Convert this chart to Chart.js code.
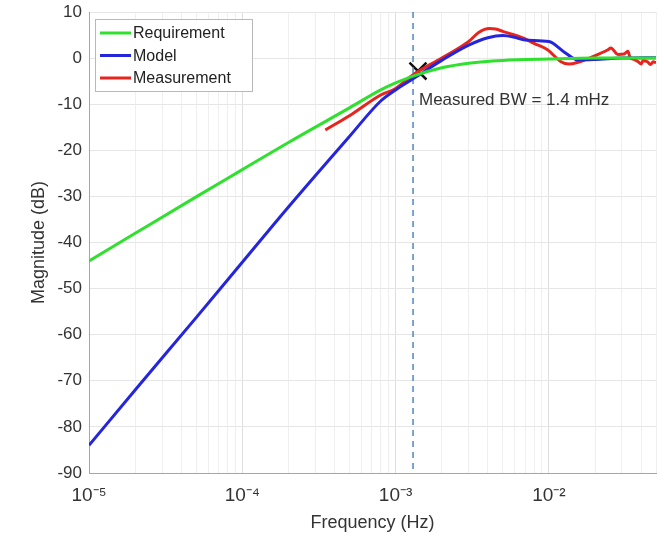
<!DOCTYPE html>
<html>
<head>
<meta charset="utf-8">
<script src="https://cdn.jsdelivr.net/npm/chart.js@4.4.1/dist/chart.umd.min.js"></script>
<style>
  html, body { margin: 0; padding: 0; background: #fff; }
  #wrap { width: 664px; height: 539px; }
</style>
</head>
<body>
<div id="wrap"><canvas id="bodePlot" width="664" height="539"></canvas></div>
<script>
// Requirement curve (Hz, dB)
const reqFreq = [1e-5, 2e-5, 5e-5, 1e-4, 2e-4, 5e-4, 8e-4, 1e-3, 1.3e-3, 2e-3, 3e-3, 5e-3, 1e-2, 2e-2, 5e-2];
const reqDb   = [-44, -38, -30.1, -24.2, -18.3, -10.8, -6.9, -5.4, -3.9, -2.1, -1.1, -0.5, -0.2, 0, 0];

// Model response
const modelFreq = [1e-5, 2e-5, 5e-5, 1e-4, 2e-4, 5e-4, 8e-4, 1e-3, 1.3e-3, 2e-3, 3e-3, 4e-3, 5e-3, 6e-3, 7e-3, 1e-2, 1.25e-2, 1.55e-2, 2e-2, 3e-2, 5e-2];
const modelDb   = [-84, -72, -56.3, -44.3, -32.3, -17, -9.3, -6.9, -4.5, -0.5, 2.8, 4.4, 4.9, 4.5, 3.9, 3.6, 1.4, -0.4, -0.3, 0, 0.1];

// Measured response
const measFreq = [3.48e-4, 5e-4, 8e-4, 1e-3, 1.3e-3, 1.4e-3, 2e-3, 3e-3, 3.5e-3, 4.1e-3, 4.5e-3, 5e-3, 6.9e-3, 8e-3, 9.8e-3, 1.2e-2, 1.35e-2, 1.55e-2, 1.9e-2, 2.43e-2, 2.54e-2, 2.82e-2, 3.1e-2, 3.28e-2, 3.38e-2, 3.6e-2, 3.83e-2, 4.0e-2, 4.1e-2, 4.4e-2, 4.6e-2, 4.8e-2, 5e-2];
const measDb   = [-15.6, -12.5, -8.0, -6.6, -3.6, -2.9, 0.0, 3.6, 5.6, 6.4, 6.3, 5.8, 4.3, 3.2, 1.8, -0.8, -1.3, -0.9, 0.2, 1.8, 2.2, 0.8, 0.9, 1.5, 0.2, -0.3, -0.8, -1.3, -0.6, -0.8, -1.4, -0.8, -1.0];

// Bandwidth marker
const bwFreq = 1.4e-3;
const bwDb = -2.8;
const cursorFreq = 1.3e-3;

// Axes
const freqMin = 1e-5, freqMax = 5e-2;
const dbMin = -90, dbMax = 10;
const decadeValues = [1e-5, 1e-4, 1e-3, 1e-2];
const decadeLabels = ['10\u207B\u2075', '10\u207B\u2074', '10\u207B\u00B3', '10\u207B\u00B2'];

const seriesNames = ['Requirement', 'Model', 'Measurement'];
const seriesColors = ['#2fe02f', '#2525dc', '#e8241e'];

const toPoints = (xs, ys) => xs.map((x, i) => ({ x: x, y: ys[i] }));

const FONT = '"Liberation Sans", Arial, Helvetica, sans-serif';

// legend box and bandwidth label, drawn on top of the plot
const overlay = {
  id: 'overlay',
  afterDraw(chart) {
    const ctx = chart.ctx;
    const xs = chart.scales.x, ys = chart.scales.y;
    ctx.save();

    // bandwidth text next to the marker
    ctx.font = '17px ' + FONT;
    ctx.fillStyle = '#333';
    ctx.textBaseline = 'middle';
    ctx.textAlign = 'left';
    ctx.fillText('Measured BW = ' + (bwFreq * 1000).toFixed(1) + ' mHz',
      xs.getPixelForValue(bwFreq) + 1, ys.getPixelForValue(bwDb - 6.3));

    // legend
    ctx.fillStyle = '#fff';
    ctx.fillRect(95, 19, 157, 72);
    ctx.strokeStyle = '#b8b8b8';
    ctx.lineWidth = 1;
    ctx.strokeRect(95.5, 19.5, 157, 72);
    ctx.font = '16px ' + FONT;
    seriesNames.forEach((name, i) => {
      const y = 33 + i * 22.5;
      ctx.strokeStyle = seriesColors[i];
      ctx.lineWidth = 3;
      ctx.beginPath();
      ctx.moveTo(100, y);
      ctx.lineTo(131, y);
      ctx.stroke();
      ctx.fillStyle = '#222';
      ctx.fillText(name, 133, y + 1);
    });
    ctx.restore();
  }
};

const lineStyle = (i) => ({
  borderColor: seriesColors[i],
  backgroundColor: seriesColors[i],
  borderWidth: 3,
  pointRadius: 0,
  cubicInterpolationMode: 'monotone',
  fill: false
});

new Chart(document.getElementById('bodePlot'), {
  type: 'line',
  data: {
    datasets: [
      Object.assign({ label: seriesNames[0], data: toPoints(reqFreq, reqDb) }, lineStyle(0)),
      Object.assign({ label: seriesNames[1], data: toPoints(modelFreq, modelDb) }, lineStyle(1)),
      Object.assign({ label: seriesNames[2], data: toPoints(measFreq, measDb) }, lineStyle(2)),
      {
        label: 'cursor',
        data: [{ x: cursorFreq, y: dbMax }, { x: cursorFreq, y: dbMin }],
        borderColor: '#4f86c6',
        borderWidth: 1.5,
        borderDash: [6, 5],
        pointRadius: 0
      },
      {
        label: 'bw',
        data: [{ x: bwFreq, y: bwDb }],
        showLine: false,
        pointStyle: 'crossRot',
        pointRadius: 12,
        borderColor: '#111',
        borderWidth: 2.5
      }
    ]
  },
  options: {
    responsive: false,
    animation: false,
    layout: { autoPadding: false, padding: { top: 12, right: 8, left: 0, bottom: 0 } },
    plugins: {
      legend: { display: false },
      tooltip: { enabled: false }
    },
    scales: {
      x: {
        type: 'logarithmic',
        min: freqMin,
        max: freqMax,
        afterFit(scale) {
          scale.height = 66;
          scale.paddingLeft = 0;
          scale.paddingRight = 0;
        },
        afterBuildTicks(scale) {
          const t = [];
          for (let e = -5; e <= -2; e++) {
            for (let m = 1; m <= 9; m++) {
              const v = m * Math.pow(10, e);
              if (v <= freqMax * 1.0001) t.push({ value: v, major: m === 1 });
            }
          }
          scale.ticks = t;
        },
        ticks: {
          autoSkip: false,
          maxRotation: 0,
          padding: 11,
          color: '#333',
          font: { family: FONT, size: 19 },
          callback(value) {
            const k = decadeValues.findIndex(d => Math.abs(d - value) / d < 1e-6);
            return k >= 0 ? decadeLabels[k] : '';
          }
        },
        grid: {
          drawTicks: false,
          color(ctx) {
            return ctx.tick && ctx.tick.major ? '#dedede' : '#efefef';
          }
        },
        border: { color: '#a6a6a6' },
        title: {
          display: true,
          text: 'Frequency (Hz)',
          color: '#333',
          font: { family: FONT, size: 18 },
          padding: { top: 0, bottom: 5 }
        }
      },
      y: {
        min: dbMin,
        max: dbMax,
        afterFit(scale) {
          scale.width = 89;
          scale.paddingTop = 0;
          scale.paddingBottom = 0;
        },
        ticks: {
          stepSize: 10,
          padding: 7,
          color: '#333',
          font: { family: FONT, size: 17 }
        },
        grid: { drawTicks: false, color: '#e6e6e6' },
        border: { color: '#a6a6a6' },
        title: {
          display: true,
          text: 'Magnitude (dB)',
          color: '#333',
          font: { family: FONT, size: 18 },
          padding: { top: 28, bottom: 0 }
        }
      }
    }
  },
  plugins: [overlay]
});
</script>
</body>
</html>
